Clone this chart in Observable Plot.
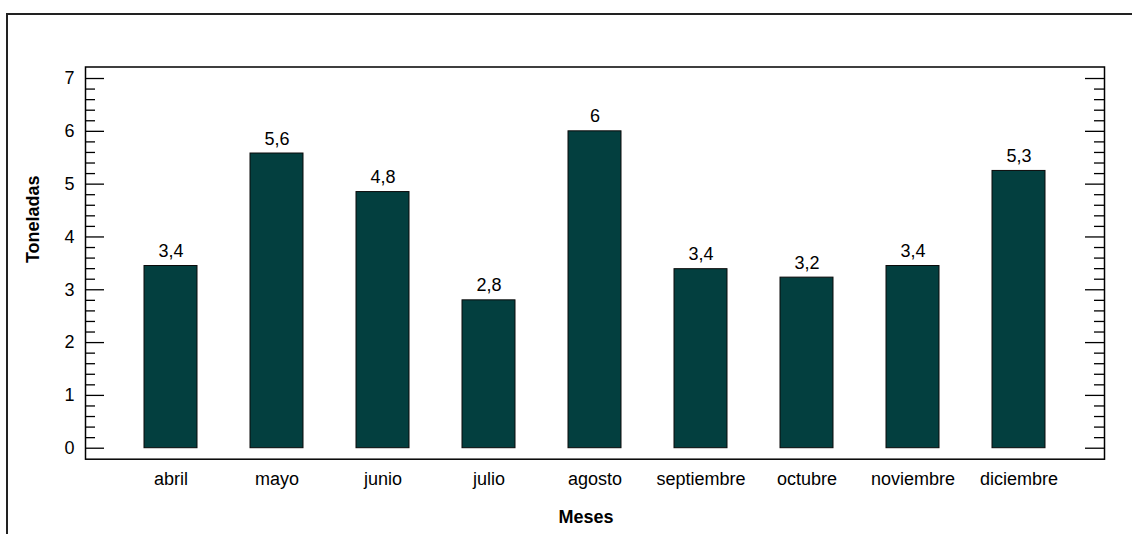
<!DOCTYPE html>
<html><head><meta charset="utf-8">
<script src="https://cdn.jsdelivr.net/npm/d3@7"></script>
<script src="https://cdn.jsdelivr.net/npm/@observablehq/plot@0.6"></script>
<style>
html,body{margin:0;padding:0;background:#fff;overflow:hidden}
#wrap{position:relative;width:1132px;height:534px}
#outer{position:absolute;left:6px;top:13px;width:1200px;height:600px;border-left:2px solid #222;border-top:2px solid #222}
#chart{position:absolute;left:0;top:0}
</style></head><body>
<div id="wrap"><div id="outer"></div><div id="chart"></div></div>
<script>
const months = ["abril","mayo","junio","julio","agosto","septiembre","octubre","noviembre","diciembre"];
const toneladas = [3.45, 5.58, 4.85, 2.8, 6.0, 3.39, 3.23, 3.45, 5.25];
const valueLabels = ["3,4","5,6","4,8","2,8","6","3,4","3,2","3,4","5,3"];
const yMajorTicks = [0, 1, 2, 3, 4, 5, 6, 7];
const yMinorTicks = d3.range(0, 35).filter(i => i % 5 !== 0).map(i => i / 5);
const xTitle = "Meses";
const yTitle = "Toneladas";

const data = months.map((m, i) => ({mes: m, t: toneladas[i], label: valueLabels[i]}));

const W = 1132, H = 534, ML = 85, MR = 28, MT = 66.5, MB = 75.3;
const plotW = W - ML - MR;
const font = "'Liberation Sans', Arial, Helvetica, sans-serif";

const chart = Plot.plot({
  width: W, height: H,
  marginLeft: ML, marginRight: MR, marginTop: MT, marginBottom: MB,
  style: {fontFamily: font, fontSize: "18px", background: "transparent", color: "#000"},
  x: {type: "band", domain: months, paddingInner: 0.5, paddingOuter: 0.534, align: 0.5, label: null},
  y: {domain: [-0.208, 7.218], label: null},
  marks: [
    Plot.barY(data, {x: "mes", y: "t", fill: "#033f3f", stroke: "#0a0a0a", strokeWidth: 1}),
    Plot.text(data, {x: "mes", y: "t", text: "label", dy: -9, lineAnchor: "bottom", fontSize: 18, fill: "#000"}),
    Plot.tickY(yMajorTicks, {y: d => d, insetRight: plotW - 19, stroke: "#000", strokeWidth: 1.3}),
    Plot.tickY(yMajorTicks, {y: d => d, insetLeft: plotW - 19, stroke: "#000", strokeWidth: 1.3}),
    Plot.tickY(yMinorTicks, {y: d => d, insetRight: plotW - 10, stroke: "#000", strokeWidth: 1.3}),
    Plot.tickY(yMinorTicks, {y: d => d, insetLeft: plotW - 10, stroke: "#000", strokeWidth: 1.3}),
    Plot.frame({stroke: "#000", strokeWidth: 1.5}),
    Plot.axisY(yMajorTicks, {anchor: "left", tickSize: 0, tickPadding: 11, tickFormat: d => String(d), label: null, fontSize: 18}),
    Plot.axisX({anchor: "bottom", tickSize: 0, tickPadding: 13, label: null, fontSize: 18}),
    Plot.text([xTitle], {frameAnchor: "bottom", text: d => d, dx: -9, dy: 58, lineAnchor: "middle", fontWeight: "bold", fontSize: 18}),
    Plot.text([yTitle], {frameAnchor: "left", text: d => d, rotate: -90, dx: -52, lineAnchor: "middle", fontWeight: "bold", fontSize: 18})
  ]
});
document.getElementById("chart").appendChild(chart);
</script>
</body></html>
